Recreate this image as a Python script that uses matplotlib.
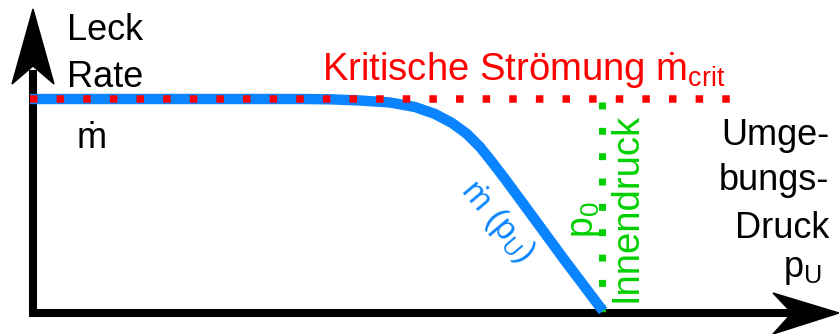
import matplotlib.pyplot as plt
from matplotlib.patches import Polygon

plt.rcParams['font.family'] = ['Liberation Sans', 'DejaVu Sans']

# Schema in Bildpunkten (x nach rechts, y nach unten)
kurve_x = [30, 300, 330, 360, 390, 415, 435, 452, 467, 480, 492, 505, 533, 563, 603]
kurve_y = [99, 99, 99.3, 100.5, 102.5, 107, 114, 123, 134, 147, 162, 179, 217, 258, 311]
krit_y = 99
krit_x = [30, 736]
p0_x = 602
p0_y = [102, 312]

blau = '#0a84ff'
rot = '#ff0000'
gruen = '#00d000'

fig = plt.figure(figsize=(8.39, 3.34), dpi=100)
ax = fig.add_axes([0, 0, 1, 1])
ax.set_xlim(0, 839)
ax.set_ylim(334, 0)
ax.axis('off')

# Achsen mit Pfeilspitzen
ax.plot([33, 33], [317, 70], color='black', lw=5.8, solid_capstyle='butt')
ax.plot([29, 795], [313, 313], color='black', lw=5.8, solid_capstyle='butt')
ax.add_patch(Polygon([(33, 9), (54, 84), (33, 66), (12, 84)], closed=True, color='black'))
ax.add_patch(Polygon([(839, 313), (773, 293), (792, 313), (773, 334)], closed=True, color='black'))

# Innendruck (gruen gepunktet)
ax.plot([p0_x, p0_x], p0_y, color=gruen, lw=5.0, linestyle=(0, (1, 2.65)),
        solid_capstyle='butt', dash_capstyle='butt', zorder=2)

# Leckrate-Kurve
ax.plot(kurve_x, kurve_y, color=blau, lw=7.5, solid_capstyle='butt',
        solid_joinstyle='round', zorder=3)

# kritische Stroemung (rot gepunktet)
ax.plot(krit_x, [krit_y, krit_y], color=rot, lw=5.4, linestyle=(0, (1, 2.55)),
        dash_capstyle='butt', zorder=4)

fs = 26
ax.text(67, 40, 'Leck', fontsize=fs, ha='left', va='baseline')
ax.text(67, 87, 'Rate', fontsize=fs, ha='left', va='baseline')
ax.text(77, 148, '\u1e41', fontsize=fs, ha='left', va='baseline')

ax.text(322, 80, 'Kritische Strömung \u1e41$\\mathregular{_{crit}}$', fontsize=27.5,
        color=rot, ha='left', va='baseline')

ax.text(829, 145, 'Umge-', fontsize=fs, ha='right', va='baseline')
ax.text(829, 190, 'bungs-', fontsize=fs, ha='right', va='baseline')
ax.text(829, 238, 'Druck', fontsize=fs, ha='right', va='baseline')
ax.text(822, 277, 'p$\\mathregular{_{U}}$', fontsize=fs, ha='right', va='baseline')

ax.text(636, 302, 'Innendruck', fontsize=27.5, color=gruen, rotation=90,
        rotation_mode='anchor', ha='left', va='baseline')
ax.text(593, 220, 'p$\\mathregular{_{0}}$', fontsize=27, color=gruen, rotation=90,
        rotation_mode='anchor', ha='center', va='baseline')

ax.text(497, 222, '\u1e41 (p$\\mathregular{_{U}}$)', fontsize=24, color=blau,
        rotation=-50, rotation_mode='anchor', ha='center', va='center')

fig.savefig('out.png', dpi=100)
